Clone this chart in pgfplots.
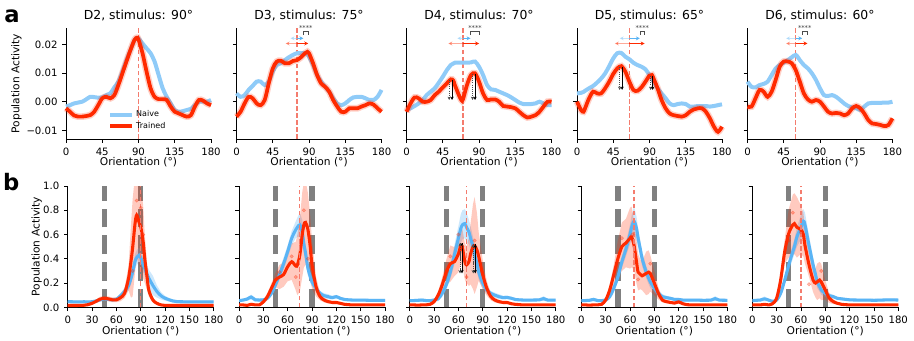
\documentclass[border=0pt]{standalone}
\usepackage{fontspec}
\setmainfont{DejaVu Sans}
\usepackage{pgfplots}
\usepackage{pgfplotstable}
\pgfplotsset{compat=1.18}
\usetikzlibrary{arrows.meta}

\definecolor{naive}{HTML}{8FCBF8}
\definecolor{naiveb}{HTML}{5AB4F5}
\definecolor{trained}{HTML}{FF2A00}
\definecolor{stim}{HTML}{F47C6E}

% top row: x  trained  naive
\pgfplotstableread{
x r b
0 -0.0023 -0.0017
5 -0.0035 -0.0012
10 -0.0048 -0.0006
15 -0.0052 -0.0003
20 -0.0052 0.0000
25 -0.0050 0.0008
30 -0.0047 0.0017
35 -0.0035 0.0016
40 -0.0012 0.0014
45 0.0012 0.0015
50 0.0017 0.0023
55 0.0012 0.0029
60 0.0023 0.0050
65 0.0058 0.0070
70 0.0099 0.0105
75 0.0140 0.0145
80 0.0180 0.0180
85 0.0215 0.0215
88 0.0223 0.0222
90 0.0217 0.0221
95 0.0169 0.0203
100 0.0105 0.0186
105 0.0047 0.0169
110 0.0017 0.0140
115 0.0009 0.0093
120 0.0009 0.0047
125 0.0006 0.0017
130 -0.0017 -0.0006
135 -0.0035 -0.0029
140 -0.0041 -0.0035
145 -0.0047 -0.0033
150 -0.0052 -0.0029
155 -0.0047 -0.0025
160 -0.0017 -0.0012
165 0.0006 0.0000
170 0.0004 0.0000
175 -0.0006 0.0000
180 -0.0012 0.0006
}\Atwo
\pgfplotstableread{
x r b
0 -0.0052 0.0029
5 -0.0035 0.0017
10 -0.0006 0.0023
15 0.0017 0.0041
20 0.0012 0.0055
25 -0.0006 0.0070
30 -0.0012 0.0070
35 0.0006 0.0058
40 0.0064 0.0070
45 0.0116 0.0105
50 0.0140 0.0128
55 0.0143 0.0134
60 0.0134 0.0145
65 0.0134 0.0155
70 0.0142 0.0163
75 0.0145 0.0169
80 0.0155 0.0169
85 0.0169 0.0169
88 0.0174 0.0165
90 0.0169 0.0157
95 0.0134 0.0128
100 0.0093 0.0093
105 0.0064 0.0070
110 0.0052 0.0052
115 0.0035 0.0035
120 0.0006 0.0012
125 -0.0017 -0.0006
130 -0.0035 -0.0012
135 -0.0035 -0.0006
140 -0.0023 0.0006
145 -0.0023 0.0015
150 -0.0023 0.0017
155 -0.0017 0.0017
160 -0.0012 0.0012
165 -0.0006 0.0006
170 -0.0010 0.0006
175 -0.0023 0.0017
180 -0.0035 0.0041
}\Athree
\pgfplotstableread{
x r b
0 -0.0035 -0.0029
5 -0.0006 -0.0023
10 0.0015 -0.0015
15 0.0012 -0.0006
20 0.0000 0.0006
25 0.0000 0.0023
30 0.0006 0.0035
35 0.0023 0.0047
40 0.0035 0.0066
45 0.0050 0.0087
50 0.0064 0.0110
55 0.0078 0.0128
58 0.0074 0.0133
60 0.0058 0.0136
65 0.0023 0.0136
68 0.0006 0.0136
70 0.0008 0.0136
75 0.0058 0.0136
80 0.0093 0.0137
85 0.0099 0.0140
90 0.0070 0.0122
95 0.0029 0.0093
100 0.0006 0.0058
105 0.0008 0.0043
110 0.0008 0.0041
115 0.0000 0.0035
120 -0.0015 0.0029
125 -0.0017 0.0023
130 -0.0019 0.0015
135 -0.0023 0.0006
140 -0.0035 -0.0003
145 -0.0047 -0.0008
150 -0.0055 -0.0008
155 -0.0052 -0.0008
160 -0.0047 -0.0006
165 -0.0035 0.0000
170 -0.0017 -0.0006
175 0.0000 -0.0012
180 0.0000 -0.0012
}\Afour
\pgfplotstableread{
x r b
0 0.0000 0.0029
5 -0.0029 0.0031
8 -0.0035 0.0034
10 -0.0023 0.0038
15 0.0012 0.0047
20 0.0035 0.0055
25 0.0029 0.0067
30 0.0029 0.0081
35 0.0047 0.0099
40 0.0070 0.0124
45 0.0097 0.0151
50 0.0116 0.0169
55 0.0124 0.0170
60 0.0105 0.0157
65 0.0070 0.0148
70 0.0041 0.0136
75 0.0038 0.0128
80 0.0050 0.0122
85 0.0070 0.0113
90 0.0091 0.0093
93 0.0093 0.0080
95 0.0081 0.0070
100 0.0047 0.0047
105 0.0006 0.0029
110 -0.0023 0.0012
115 -0.0041 -0.0006
120 -0.0047 -0.0012
125 -0.0050 -0.0008
130 -0.0052 -0.0006
135 -0.0047 -0.0008
140 -0.0035 -0.0017
145 -0.0027 -0.0017
150 -0.0023 -0.0015
155 -0.0023 -0.0015
160 -0.0035 -0.0015
165 -0.0058 -0.0017
170 -0.0087 -0.0015
175 -0.0105 -0.0012
180 -0.0087 -0.0009
}\Afive
\pgfplotstableread{
x r b
0 -0.0017 0.0070
5 -0.0017 0.0052
10 0.0012 0.0050
15 0.0041 0.0058
20 0.0035 0.0062
25 0.0017 0.0070
30 0.0035 0.0093
35 0.0076 0.0116
40 0.0122 0.0128
45 0.0140 0.0136
50 0.0140 0.0145
55 0.0134 0.0155
60 0.0110 0.0163
65 0.0070 0.0145
70 0.0029 0.0128
75 0.0008 0.0116
80 0.0000 0.0099
85 0.0006 0.0076
90 0.0000 0.0047
95 -0.0017 0.0023
100 -0.0035 0.0020
105 -0.0041 0.0023
110 -0.0039 0.0017
115 -0.0041 0.0006
120 -0.0047 -0.0006
125 -0.0041 -0.0015
130 -0.0023 -0.0020
135 -0.0015 -0.0023
140 -0.0023 -0.0029
145 -0.0041 -0.0017
150 -0.0064 -0.0006
155 -0.0076 -0.0004
160 -0.0078 -0.0004
165 -0.0081 -0.0004
170 -0.0085 -0.0003
175 -0.0081 -0.0003
180 -0.0058 0.0000
}\Asix

% bottom row: x  trained  trained-spread  naive  naive-spread
\pgfplotstableread{
x r re b be
0 0.015 0.008 0.047 0.012
5 0.015 0.008 0.046 0.012
10 0.015 0.008 0.045 0.012
15 0.016 0.008 0.045 0.012
20 0.017 0.008 0.046 0.012
25 0.022 0.01 0.045 0.012
30 0.033 0.012 0.046 0.012
35 0.05 0.015 0.052 0.015
40 0.068 0.02 0.062 0.015
45 0.075 0.02 0.07 0.015
50 0.07 0.02 0.066 0.015
55 0.062 0.02 0.062 0.015
60 0.062 0.02 0.066 0.015
65 0.08 0.03 0.095 0.02
70 0.115 0.04 0.13 0.03
75 0.24 0.10 0.18 0.04
78 0.38 0.30 0.24 0.05
80 0.49 0.40 0.29 0.05
83 0.69 0.40 0.38 0.06
85 0.76 0.35 0.41 0.06
88 0.70 0.35 0.43 0.06
90 0.665 0.35 0.41 0.06
93 0.54 0.30 0.35 0.06
95 0.40 0.20 0.32 0.06
98 0.24 0.10 0.27 0.07
100 0.14 0.05 0.24 0.07
105 0.06 0.02 0.18 0.08
110 0.033 0.012 0.13 0.05
115 0.02 0.008 0.095 0.03
120 0.016 0.008 0.075 0.02
125 0.015 0.008 0.062 0.015
130 0.015 0.008 0.052 0.012
135 0.015 0.008 0.047 0.012
140 0.015 0.008 0.046 0.012
150 0.015 0.008 0.045 0.012
160 0.015 0.008 0.045 0.012
170 0.015 0.008 0.045 0.012
180 0.015 0.008 0.045 0.012
}\Btwo
\pgfplotstableread{
x r re b be
0 0.02 0.008 0.055 0.012
5 0.02 0.008 0.06 0.012
10 0.016 0.008 0.068 0.015
15 0.025 0.01 0.085 0.02
20 0.02 0.008 0.062 0.015
25 0.02 0.008 0.06 0.012
30 0.045 0.015 0.062 0.012
35 0.088 0.03 0.075 0.015
40 0.157 0.04 0.115 0.02
45 0.225 0.06 0.185 0.03
50 0.25 0.10 0.27 0.04
55 0.27 0.10 0.36 0.05
60 0.335 0.12 0.46 0.05
65 0.376 0.15 0.57 0.06
70 0.34 0.20 0.64 0.07
72 0.35 0.25 0.66 0.08
75 0.43 0.30 0.68 0.10
78 0.60 0.35 0.62 0.10
80 0.68 0.35 0.52 0.08
82 0.70 0.35 0.45 0.07
85 0.64 0.30 0.32 0.06
88 0.49 0.25 0.25 0.05
90 0.35 0.20 0.21 0.04
95 0.17 0.08 0.157 0.03
100 0.088 0.03 0.115 0.02
105 0.06 0.02 0.096 0.02
110 0.047 0.015 0.088 0.02
115 0.04 0.01 0.08 0.015
120 0.04 0.01 0.088 0.015
125 0.033 0.01 0.074 0.012
130 0.025 0.008 0.065 0.012
140 0.02 0.008 0.06 0.012
150 0.02 0.008 0.06 0.012
160 0.02 0.008 0.058 0.012
170 0.02 0.008 0.058 0.012
180 0.02 0.008 0.058 0.012
}\Bthree
\pgfplotstableread{
x r re b be
0 0.02 0.008 0.055 0.012
5 0.02 0.008 0.056 0.012
10 0.018 0.008 0.058 0.012
15 0.02 0.008 0.06 0.015
20 0.02 0.008 0.056 0.012
25 0.025 0.01 0.055 0.012
30 0.047 0.02 0.06 0.012
35 0.10 0.03 0.07 0.02
40 0.185 0.06 0.115 0.03
45 0.29 0.10 0.185 0.04
50 0.36 0.15 0.29 0.06
55 0.376 0.12 0.43 0.08
60 0.44 0.15 0.57 0.10
63 0.51 0.15 0.65 0.12
65 0.49 0.15 0.68 0.12
68 0.376 0.15 0.69 0.12
70 0.35 0.15 0.66 0.12
73 0.376 0.20 0.62 0.10
75 0.44 0.25 0.57 0.10
78 0.50 0.35 0.50 0.08
80 0.51 0.40 0.43 0.08
83 0.47 0.30 0.36 0.07
85 0.42 0.20 0.29 0.06
90 0.27 0.12 0.20 0.05
95 0.157 0.06 0.143 0.03
100 0.088 0.03 0.115 0.02
105 0.06 0.02 0.10 0.02
110 0.047 0.015 0.088 0.02
115 0.04 0.01 0.08 0.015
120 0.04 0.01 0.082 0.015
125 0.03 0.008 0.075 0.012
130 0.025 0.008 0.065 0.012
140 0.02 0.008 0.06 0.012
150 0.02 0.008 0.06 0.012
160 0.02 0.008 0.062 0.012
165 0.02 0.008 0.072 0.02
170 0.02 0.008 0.06 0.012
180 0.02 0.008 0.06 0.012
}\Bfour
\pgfplotstableread{
x r re b be
0 0.02 0.008 0.055 0.012
5 0.02 0.008 0.056 0.012
10 0.018 0.008 0.058 0.012
15 0.02 0.008 0.065 0.015
20 0.02 0.008 0.056 0.012
25 0.025 0.01 0.055 0.012
30 0.06 0.02 0.06 0.012
35 0.143 0.04 0.088 0.02
40 0.27 0.08 0.157 0.03
45 0.40 0.15 0.25 0.04
50 0.50 0.20 0.376 0.05
55 0.53 0.20 0.48 0.06
60 0.57 0.25 0.60 0.08
62 0.58 0.25 0.66 0.10
65 0.51 0.20 0.71 0.12
68 0.376 0.18 0.65 0.10
70 0.29 0.15 0.57 0.08
73 0.27 0.12 0.47 0.07
75 0.26 0.12 0.40 0.06
80 0.28 0.18 0.29 0.05
83 0.29 0.18 0.24 0.05
85 0.28 0.15 0.21 0.05
90 0.20 0.10 0.157 0.04
95 0.115 0.05 0.115 0.03
100 0.06 0.02 0.088 0.02
105 0.047 0.015 0.08 0.015
110 0.04 0.01 0.074 0.012
115 0.035 0.01 0.065 0.012
120 0.045 0.012 0.065 0.012
125 0.03 0.008 0.06 0.012
130 0.022 0.008 0.06 0.012
140 0.02 0.008 0.06 0.012
150 0.02 0.008 0.058 0.012
160 0.02 0.008 0.06 0.012
165 0.02 0.008 0.072 0.02
170 0.02 0.008 0.06 0.012
180 0.02 0.008 0.058 0.012
}\Bfive
\pgfplotstableread{
x r re b be
0 0.02 0.008 0.055 0.012
5 0.02 0.008 0.058 0.012
10 0.02 0.008 0.06 0.012
15 0.025 0.01 0.07 0.02
20 0.02 0.008 0.06 0.012
25 0.03 0.01 0.05 0.012
30 0.075 0.02 0.06 0.012
35 0.225 0.06 0.115 0.02
40 0.46 0.10 0.225 0.03
45 0.61 0.20 0.35 0.05
50 0.68 0.25 0.46 0.06
52 0.69 0.25 0.50 0.06
55 0.66 0.25 0.58 0.08
60 0.64 0.20 0.66 0.10
63 0.60 0.18 0.71 0.10
65 0.51 0.15 0.68 0.10
70 0.35 0.10 0.51 0.08
75 0.225 0.10 0.35 0.06
78 0.20 0.12 0.27 0.05
80 0.21 0.15 0.21 0.05
83 0.225 0.15 0.17 0.04
85 0.21 0.15 0.143 0.04
90 0.143 0.08 0.115 0.03
95 0.075 0.04 0.096 0.02
100 0.047 0.02 0.088 0.015
105 0.033 0.01 0.074 0.012
110 0.025 0.008 0.07 0.012
120 0.02 0.008 0.062 0.012
130 0.02 0.008 0.06 0.012
140 0.02 0.008 0.06 0.012
150 0.02 0.008 0.058 0.012
160 0.02 0.008 0.06 0.012
170 0.02 0.008 0.062 0.012
180 0.02 0.008 0.06 0.012
}\Bsix

\pgfplotsset{
  panel/.style={scale only axis, anchor=south west, xmin=0, xmax=180,
    axis x line*=bottom, axis y line*=left, axis line style={-, line width=0.6pt},
    tick align=outside, major tick length=2.8pt, tick style={black, line width=0.6pt},
    /pgf/number format/assume math mode=true, scaled y ticks=false,
    tick label style={font=\fontsize{7.6}{9}\selectfont},
    xticklabel style={anchor=base, yshift=-9.2pt},
    label style={font=\fontsize{8}{9}\selectfont},
    title style={font=\fontsize{9.3}{10}\selectfont, at={(0.5,1)}, anchor=base, yshift=0.3pt},
    xlabel={Orientation (°)}, xlabel style={at={(0.5,0)}, anchor=base, yshift=-20pt}},
  toprow/.style={panel, width=108.75pt, height=83.25pt, ymin=-0.013, ymax=0.0257,
    xtick={0,45,90,135,180}, ytick={-0.01,0,0.01,0.02}, yticklabels={}, clip=false},
  botrow/.style={panel, width=109.5pt, height=91pt, ymin=0, ymax=1,
    xtick={0,30,60,90,120,150,180}, ytick={0,0.2,0.4,0.6,0.8,1}, yticklabels={}},
  naivetop/.style={naive, line width=3pt, smooth, tension=0.5},
  halo/.style={trained, opacity=0.22, line width=5pt, smooth, tension=0.5, forget plot},
  trainedtop/.style={trained, line width=2.8pt, smooth, tension=0.5},
  naivebot/.style={naiveb, line width=2.3pt, smooth, tension=0.5, forget plot},
  trainedbot/.style={trained, line width=2.3pt, smooth, tension=0.5, forget plot},
  stimline/.style={stim, line width=0.9pt, dash pattern=on 3.5pt off 1.8pt, forget plot},
  grayline/.style={black!50, line width=4pt, dash pattern=on 14pt off 6pt, forget plot},
  dots/.style={only marks, mark=*, mark size=1.3pt, trained, opacity=0.3, forget plot},
  hidden/.style={draw=none, stack plots=y, forget plot},
}

% shift arrows and significance bracket: stim, blue left, blue right, red left, red right, bracket centre
\newcommand{\shifts}[6]{%
  \draw[naive, opacity=0.5, line width=0.7pt, -{Stealth[length=3pt,width=3pt]}] (axis cs:#1,0.0221) -- (axis cs:#2,0.0221);
  \draw[naiveb, line width=0.7pt, -{Stealth[length=3pt,width=3pt]}] (axis cs:#1,0.0221) -- (axis cs:#3,0.0221);
  \draw[trained, opacity=0.4, line width=0.7pt, -{Stealth[length=3pt,width=3pt]}] (axis cs:#1,0.0203) -- (axis cs:#4,0.0203);
  \draw[trained, line width=0.7pt, -{Stealth[length=3pt,width=3pt]}] (axis cs:#1,0.0203) -- (axis cs:#5,0.0203);
  \draw[black!70, line width=0.5pt] (axis cs:#3,0.0233) |- (axis cs:#5,0.0244) -- (axis cs:#5,0.0233);
  \node[font=\fontsize{5}{5}\selectfont, black!75, inner sep=0pt] at (axis cs:#6,0.0257) {****};
}
% peak drop arrows: x dotted, x solid, from, to
\newcommand{\drop}[4]{%
  \draw[black!70, densely dotted, line width=0.6pt, -{Stealth[length=2.5pt,width=2.5pt]}] (axis cs:#1,#3) -- (axis cs:#1,#4);
  \draw[black, line width=0.6pt, -{Stealth[length=2.5pt,width=2.5pt]}] (axis cs:#2,#3) -- (axis cs:#2,#4);
}
% bottom row: stacked bands (naive, then trained) and the two mean lines
\newcommand{\bands}[1]{%
  \addplot[hidden] table[x=x, y expr=\thisrow{b}-\thisrow{be}] {#1};
  \addplot[draw=none, fill=naiveb, fill opacity=0.3, stack plots=y, forget plot] table[x=x, y expr=2*\thisrow{be}] {#1} \closedcycle;
  \addplot[hidden] table[x=x, y expr=\thisrow{r}-\thisrow{re}-\thisrow{b}-\thisrow{be}] {#1};
  \addplot[draw=none, fill=trained, fill opacity=0.25, stack plots=y, forget plot] table[x=x, y expr=2*\thisrow{re}] {#1} \closedcycle;
  \addplot[naivebot] table[x=x, y=b] {#1};
  \addplot[trainedbot] table[x=x, y=r] {#1};
}

\begin{document}
\begin{tikzpicture}
\node[font=\bfseries\fontsize{17}{17}\selectfont] at (9pt,243pt) {a};
\node[font=\bfseries\fontsize{17}{17}\selectfont] at (8.5pt,118.5pt) {b};

% ---------- row a ----------
\begin{axis}[toprow, at={(49.5pt,150.75pt)}, title={D2, stimulus: 90°},
  ylabel={Population Activity}, yticklabels={−0.01,0.00,0.01,0.02},
  ylabel style={at={(axis description cs:-0.342,0.5)}, anchor=center},
  legend style={at={(0.28,0.04)}, anchor=south west, draw=none, fill=none,
    font=\fontsize{6}{7}\selectfont, row sep=-1.5pt, inner sep=1pt},
  legend cell align=left,
  legend image code/.code={\draw[#1] (0pt,0pt) -- (16pt,0pt);}]
\addplot[stimline] coordinates {(90,-0.013) (90,0.0257)};
\addplot[naivetop] table[x=x, y=b] {\Atwo};
\addlegendentry{Naive}
\addplot[halo] table[x=x, y=r] {\Atwo};
\addplot[trainedtop] table[x=x, y=r] {\Atwo};
\addlegendentry{Trained}
\end{axis}

\begin{axis}[toprow, at={(177.4pt,150.75pt)}, title={D3, stimulus: 75°}]
\addplot[stimline] coordinates {(75,-0.013) (75,0.0257)};
\addplot[naivetop] table[x=x, y=b] {\Athree};
\addplot[halo] table[x=x, y=r] {\Athree};
\addplot[trainedtop] table[x=x, y=r] {\Athree};
\shifts{75}{67}{83}{61}{89}{86}
\end{axis}

\begin{axis}[toprow, at={(304.9pt,150.75pt)}, title={D4, stimulus: 70°}]
\addplot[stimline] coordinates {(70,-0.013) (70,0.0257)};
\addplot[naivetop] table[x=x, y=b] {\Afour};
\addplot[halo] table[x=x, y=r] {\Afour};
\addplot[trainedtop] table[x=x, y=r] {\Afour};
\shifts{70}{63}{79.5}{52}{90}{85}
\drop{53}{56.5}{0.0076}{0.0006}
\drop{82}{85}{0.0097}{0.0006}
\end{axis}

\begin{axis}[toprow, at={(432.75pt,150.75pt)}, title={D5, stimulus: 65°}]
\addplot[stimline] coordinates {(65,-0.013) (65,0.0257)};
\addplot[naivetop] table[x=x, y=b] {\Afive};
\addplot[halo] table[x=x, y=r] {\Afive};
\addplot[trainedtop] table[x=x, y=r] {\Afive};
\shifts{65}{53}{78}{47}{84}{81}
\drop{53}{56}{0.0120}{0.0041}
\drop{91.5}{94}{0.0090}{0.0041}
\end{axis}

\begin{axis}[toprow, at={(560.6pt,150.75pt)}, title={D6, stimulus: 60°}]
\addplot[stimline] coordinates {(60,-0.013) (60,0.0257)};
\addplot[naivetop] table[x=x, y=b] {\Asix};
\addplot[halo] table[x=x, y=r] {\Asix};
\addplot[trainedtop] table[x=x, y=r] {\Asix};
\shifts{60}{48}{68}{48}{74.5}{71}
\end{axis}

% ---------- row b ----------
\begin{axis}[botrow, at={(50.8pt,24.5pt)}, ylabel={Population Activity},
  ylabel style={at={(axis description cs:-0.212,0.5)}, anchor=center},
  yticklabels={0.0,0.2,0.4,0.6,0.8,1.0}]
\addplot[grayline] coordinates {(45,0) (45,1)};
\addplot[grayline] coordinates {(90,0) (90,1)};
\bands{\Btwo}
\addplot[stimline] coordinates {(90,0) (90,1)};
\addplot[dots] coordinates {(85,0.88) (90,0.82) (93,0.6) (80,0.3)};
\end{axis}

\begin{axis}[botrow, at={(179.25pt,24.5pt)}]
\addplot[grayline] coordinates {(45,0) (45,1)};
\addplot[grayline] coordinates {(90,0) (90,1)};
\bands{\Bthree}
\addplot[stimline] coordinates {(75,0) (75,1)};
\addplot[dots] coordinates {(80,0.8) (65,0.42) (70,0.25) (50,0.29) (85,0.4)};
\end{axis}

\begin{axis}[botrow, at={(307.3pt,24.5pt)}]
\addplot[grayline] coordinates {(45,0) (45,1)};
\addplot[grayline] coordinates {(90,0) (90,1)};
\bands{\Bfour}
\addplot[stimline] coordinates {(70,0) (70,1)};
\addplot[dots] coordinates {(50,0.42) (70,0.25) (65,0.5) (80,0.55) (60,0.6)};
\drop{62}{64.4}{0.30}{0.53}
\drop{62}{64.4}{0.53}{0.28}
\drop{78.3}{80.8}{0.30}{0.52}
\drop{78.3}{80.8}{0.52}{0.28}
\end{axis}

\begin{axis}[botrow, at={(436pt,24.5pt)}]
\addplot[grayline] coordinates {(45,0) (45,1)};
\addplot[grayline] coordinates {(90,0) (90,1)};
\bands{\Bfive}
\addplot[stimline] coordinates {(65,0) (65,1)};
\addplot[dots] coordinates {(50,0.57) (63,0.6) (70,0.23) (85,0.36)};
\end{axis}

\begin{axis}[botrow, at={(564.2pt,24.5pt)}]
\addplot[grayline] coordinates {(45,0) (45,1)};
\addplot[grayline] coordinates {(90,0) (90,1)};
\bands{\Bsix}
\addplot[stimline] coordinates {(60,0) (60,1)};
\addplot[dots] coordinates {(50,0.78) (60,0.62) (70,0.19) (85,0.3) (45,0.55)};
\end{axis}

\pgfresetboundingbox
\path (0,0) rectangle (685.5pt,255pt);
\end{tikzpicture}
\end{document}
